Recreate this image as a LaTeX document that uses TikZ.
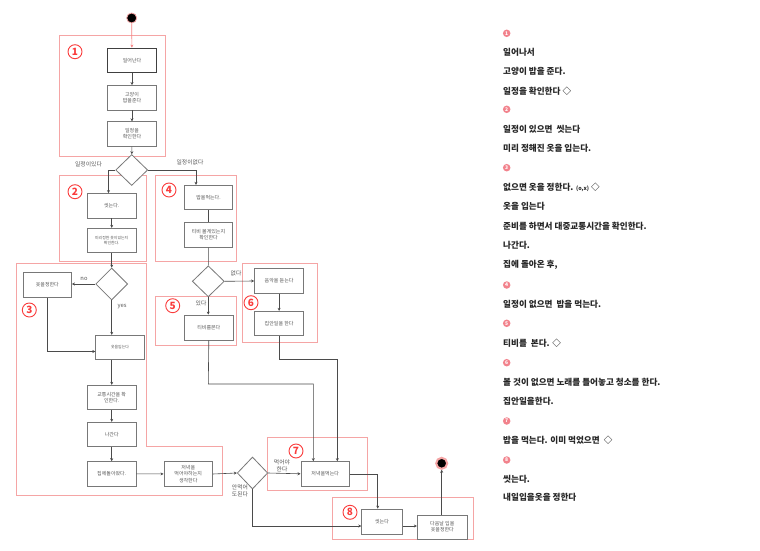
\documentclass[tikz,border=0pt]{standalone}
\usepackage{fontspec}
\setmainfont{Noto Sans CJK KR}
\usetikzlibrary{arrows.meta,shapes.geometric}
\definecolor{boxline}{RGB}{120,120,120}
\definecolor{boxtext}{RGB}{85,85,85}
\definecolor{regionc}{RGB}{245,165,165}
\definecolor{numred}{RGB}{250,60,60}
\definecolor{pinknum}{RGB}{242,130,140}
\definecolor{connc}{RGB}{75,75,75}
\begin{document}
\begin{tikzpicture}[x=1pt,y=-1pt,
  box/.style={draw=boxline,line width=0.8pt,fill=white,align=center,inner sep=1pt,
    text=boxtext,font=\fontsize{5}{6.2}\selectfont,minimum width=48.5pt,minimum height=24.5pt},
  dia/.style={draw=boxline,line width=0.8pt,fill=white,diamond,inner sep=0pt,
    minimum width=32pt,minimum height=31pt},
  regionbox/.style={draw=regionc,line width=0.8pt},
  num/.style={circle,draw=numred,line width=0.9pt,text=numred,inner sep=0pt,
    minimum size=14pt,font=\fontsize{10}{10}\selectfont\bfseries},
  conn/.style={draw=connc,line width=0.6pt,-{Stealth[length=3pt,width=3pt]}},
  plainline/.style={draw=connc,line width=0.6pt},
  lbl/.style={text=boxtext,font=\fontsize{5.8}{6.8}\selectfont,inner sep=0pt,align=center},
  rt/.style={anchor=west,inner sep=0pt,font=\fontsize{8.6}{10}\selectfont\bfseries,text=black!85},
  rn/.style={circle,fill=pinknum,text=white,inner sep=0pt,minimum size=7.5pt,
    font=\fontsize{5}{5}\selectfont\bfseries}
]
\useasboundingbox (0,0) rectangle (760,551);
\fill[white] (0,0) rectangle (760,551);

% regions
\draw[regionbox] (59.3,35) rectangle (165.3,156);
\draw[regionbox] (59.3,175) rectangle (146.7,261);
\draw[regionbox] (155,175) rectangle (236,261.7);
\draw[regionbox] (16,263.5) -- (146.7,263.5) -- (146.7,446.7) -- (222.3,446.7) -- (222.3,495) -- (16,495) -- cycle;
\draw[regionbox] (155,296) rectangle (236,345.7);
\draw[regionbox] (242.7,263.3) rectangle (317.5,342.7);
\draw[regionbox] (267.7,437.7) rectangle (367.3,490);
\draw[regionbox] (332.7,497.7) rectangle (473.3,539.3);

% region numbers
\node[num] (n1) at (75,51.7) {1};
\node[num] (n2) at (75,191.7) {2};
\node[num] (n3) at (29.3,310) {3};
\node[num] (n4) at (169,190) {4};
\node[num] (n5) at (172.7,305.7) {5};
\node[num] (n6) at (251,302.7) {6};
\node[num] (n7) at (296,451) {7};
\node[num] (n8) at (350,512.3) {8};

% nodes
\node[circle,fill=black,draw=regionc,line width=0.8pt,minimum size=10pt,inner sep=0pt] (start) at (131.7,18) {};
\node[box,draw=black!75,line width=1.3pt] (wake) at (132,60.5) {일어난다};
\node[box] (cat) at (132,97.7) {고양이\\밥을준다};
\node[box] (sched) at (132,134) {일정을\\확인한다};
\node[dia] (d1) at (131.7,170) {};
\node[box] (wash) at (111.7,205.8) {씻는다.};
\node[box,font=\fontsize{3.9}{4.8}\selectfont] (check) at (111.7,240.5) {미리정한 옷이있는지\\확인한다.};
\node[dia,minimum height=32pt] (d2) at (111.7,284) {};
\node[box,minimum height=25.4pt] (pick) at (47.3,285) {옷을정한다};
\node[box,font=\fontsize{3.9}{4.8}\selectfont] (wear) at (120,347.5) {옷을입는다};
\node[box] (traffic) at (111.7,397.5) {교통시간을 확\\인한다.};
\node[box] (out) at (111.7,434.5) {나간다};
\node[box] (home) at (111.7,473.8) {집에돌아왔다.};
\node[box] (dinq) at (188.2,474) {저녁을\\먹어야하는지\\생각한다};
\node[dia,minimum width=30.5pt,minimum height=32pt] (d4) at (252.5,473) {};
\node[box] (dinner) at (325.2,473.8) {저녁을먹는다};
\node[box,minimum width=40.6pt,minimum height=25pt] (wash2) at (382,521.5) {씻는다};
\node[box,minimum width=50pt,minimum height=24pt] (tomorrow) at (442.3,527) {다음날 입을\\옷을정한다};
\node[circle,fill=black,draw=regionc,line width=2pt,minimum size=11pt,inner sep=0pt] (end) at (441.7,463.3) {};
\node[box] (eat) at (208.5,197.5) {밥을먹는다.};
\node[box,minimum height=25pt] (tvq) at (208.5,234.8) {티비 볼게있는지\\확인한다};
\node[dia] (d3) at (208.3,281.3) {};
\node[box,minimum width=49pt,minimum height=25pt] (tv) at (208.8,327.5) {티비를본다};
\node[box,minimum width=49.2pt] (music) at (279.1,281) {음악을 듣는다};
\node[box,minimum width=49.2pt] (chores) at (279.1,323.5) {집안일을 한다};

% labels
\node[lbl] (l1) at (88.5,164.5) {일정이있다};
\node[lbl] (l2) at (190,162.5) {일정이없다};
\node[lbl] (l3) at (84,279) {no};
\node[lbl] (l4) at (122,307) {yes};
\node[lbl] (l5) at (236,273) {없다};
\node[lbl] (l6) at (201,303) {있다};
\node[lbl] (l7) at (282,465.5) {먹어야\\한다};
\node[lbl] (l8) at (240,491) {안먹어\\도된다};

% connectors
\draw[draw=regionc!80!red,line width=0.7pt,-{Stealth[length=3pt,width=3pt]}] (start) -- (wake);
\draw[conn] (wake) -- (cat);
\draw[conn] (cat) -- (sched);
\draw[conn] (sched) -- (d1);
\coordinate (c1) at (108.5,170);
\draw[conn] (d1.west) -- (c1) -- (c1 |- wash.north);
\coordinate (c2) at (196,170);
\draw[conn] (d1.east) -- (c2) -- (c2 |- eat.north);
\draw[conn] (wash) -- (check);
\draw[conn] (check) -- (d2);
\draw[conn] (d2.west) -- (pick.east |- d2.west);
\draw[conn] (d2.south) -- (d2.south |- wear.north);
\coordinate (c3) at (47.3,351.5);
\draw[conn] (pick.south) -- (c3) -- (c3 -| wear.west);
\draw[conn] (traffic.north |- wear.south) -- (traffic.north);
\draw[conn] (traffic) -- (out);
\draw[conn] (out) -- (home);
\draw[conn] (home) -- (dinq);
\draw[conn] (dinq.east) -- (d4.west);
\draw[conn] (d4.east) -- (dinner.west);
\coordinate (c4) at (252.5,526);
\draw[conn] (d4.south) -- (c4) -- (c4 -| wash2.west);
\coordinate (c5) at (377.7,473.8);
\draw[conn] (dinner.east) -- (c5) -- (c5 |- wash2.north);
\draw[conn] (wash2.east |- c4) -- (tomorrow.west |- c4);
\draw[conn] (tomorrow.north -| end) -- (end.south);
\draw[plainline] (eat) -- (tvq);
\draw[plainline] (tvq) -- (d3);
\draw[conn] (d3.east) -- (music.west);
\draw[conn] (d3.south) -- (d3.south |- tv.north);
\draw[conn] (music) -- (chores);
\coordinate (c6) at (279.1,359.3);
\coordinate (c7) at (337.3,359.3);
\draw[conn] (chores.south) -- (c6) -- (c7) -- (c7 |- dinner.north);
\coordinate (c8) at (208.3,384);
\coordinate (c9) at (313.3,384);
\draw[conn] (tv.south) -- (c8) -- (c9) -- (c9 |- dinner.north);

% right column text
\node[rn] (r1) at (506.7,33.3) {1};
\node[rt] (t1) at (503,52.3) {일어나서};
\node[rt] (t2) at (503,71.7) {고양이 밥을 준다.};
\node[rt] (t3) at (503,91) {일정을 확인한다 ◇};
\node[rn] (r2) at (506.7,109.3) {2};
\node[rt] (t4) at (503,129.3) {일정이 있으면 \ 씻는다};
\node[rt] (t5) at (503,148.3) {미리 정해진 옷을 입는다.};
\node[rn] (r3) at (506.7,167.7) {3};
\node[rt] (t6) at (503,187.3) {없으면 옷을 정한다. {\fontsize{5.5}{6}\selectfont (o,x)} ◇};
\node[rt] (t7) at (503,206.7) {옷을 입는다};
\node[rt] (t8) at (503,226) {준비를 하면서 대중교통시간을 확인한다.};
\node[rt] (t9) at (503,245) {나간다.};
\node[rt] (t10) at (503,264.5) {집에 돌아온 후,};
\node[rn] (r4) at (506.7,285) {4};
\node[rt] (t11) at (503,304.3) {일정이 없으면 \ 밥을 먹는다.};
\node[rn] (r5) at (506.7,323.3) {5};
\node[rt] (t12) at (503,343.3) {티비를 \ 본다. ◇};
\node[rn] (r6) at (506.7,362.7) {6};
\node[rt] (t13) at (503,382.7) {볼 것이 없으면 노래를 틀어놓고 청소를 한다.};
\node[rt] (t14) at (503,401.7) {집안일을한다.};
\node[rn] (r7) at (506.7,421) {7};
\node[rt] (t15) at (503,440.7) {밥을 먹는다. 이미 먹었으면 \ ◇};
\node[rn] (r8) at (506.7,460) {8};
\node[rt] (t16) at (503,479) {씻는다.};
\node[rt] (t17) at (503,497.7) {내일입을옷을 정한다};
\end{tikzpicture}
\end{document}
